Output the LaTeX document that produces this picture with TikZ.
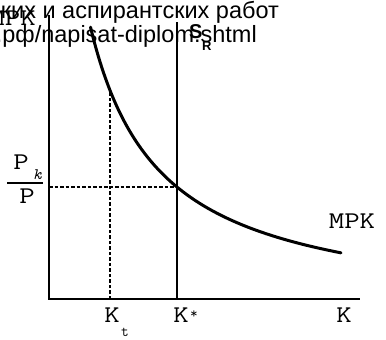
\documentclass[tikz,border=0pt]{standalone}
\usepackage{graphicx}
\usepackage{fontspec}
\setmainfont{Liberation Serif}
\newfontfamily\wmfont{Liberation Sans}
\newcommand\lbw[1]{\scalebox{1.25}[1]{#1}}
\begin{document}
\begin{tikzpicture}[x=1pt,y=-1pt,
  axis/.style={line width=1.8pt},
  supply/.style={line width=2pt},
  guide/.style={line width=1.2pt, dash pattern=on 3.5pt off 2pt},
  mpk/.style={line width=3pt, line cap=round},
  lbl/.style={font=\ttfamily\addfontfeatures{FakeBold=1.5}\fontsize{24}{24}\selectfont, inner sep=0pt},
  sub/.style={font=\ttfamily\addfontfeatures{FakeBold=1.5}\fontsize{15}{15}\selectfont, inner sep=0pt},
  wmark/.style={font=\wmfont\fontsize{23.5}{24}\selectfont, inner sep=0pt},
  srlbl/.style={font=\wmfont\bfseries\fontsize{20}{20}\selectfont, inner sep=0pt}]
\useasboundingbox (0,0) rectangle (386,340);
\begin{scope}
\clip (0,0) rectangle (386,340);
% coordinates
\coordinate (O) at (49,299);
\coordinate (ytop) at (49,15);
\coordinate (xend) at (360,299);
\coordinate (Sbot) at (177,299);
\coordinate (Stop) at (177,22);
\coordinate (E) at (177,187);
\coordinate (Yp) at (49,187);
\coordinate (Ktb) at (110,299);
\coordinate (Ktt) at (110,91);
\coordinate (fl) at (7,183);
\coordinate (fr) at (43,183);
% axes
\draw[axis] (ytop) -- (O) -- (xend);
% guides
\draw[guide] (Ktb) -- (Ktt);
\draw[guide] (Yp) -- (E);
% supply line
\draw[supply] (Sbot) -- (Stop);
% MPK curve
\draw[mpk] plot[domain=90.5:341, samples=120, smooth]
  (\x, {299 - 200.19/(\x-21.06)*100 + 16.4});
% labels
\node[lbl, anchor=base east] (mpkt) at (36,25) {\lbw{MPK}};
\node[lbl, anchor=base] (mpkr) at (352,228) {\lbw{MPK}};
\node[lbl, anchor=base] (klab) at (344,322) {\lbw{K}};
\node[lbl, anchor=base] (kt) at (112,322) {\lbw{K}};
\node[sub, anchor=base west] (ktsub) at (121,336) {t};
\node[lbl, anchor=base] (ks) at (181,322) {\lbw{K}};
\node[sub, anchor=base west] (kstar) at (190,318) {*};
\node[lbl, anchor=base] (ptop) at (21,169) {\lbw{P}};
\node[sub, anchor=base west, font=\ttfamily\itshape\addfontfeatures{FakeBold=1.5}\fontsize{16}{16}\selectfont] (psub) at (33,179) {k};
\draw[line width=1.5pt] (fl) -- (fr);
\node[lbl, anchor=base] (pbot) at (27,203) {\lbw{P}};
\node[srlbl, anchor=base west] (sr) at (189,38) {S};
\node[srlbl, anchor=base west, font=\wmfont\bfseries\fontsize{13}{13}\selectfont] (srsub) at (202,50) {R};
% watermark
\node[wmark, anchor=base east] (wm1) at (279,18) {магистерских и аспирантских работ};
\node[wmark, anchor=base east] (wm2) at (257,42) {диплом.рф/napisat-diplom.shtml};
\end{scope}
\end{tikzpicture}
\end{document}
